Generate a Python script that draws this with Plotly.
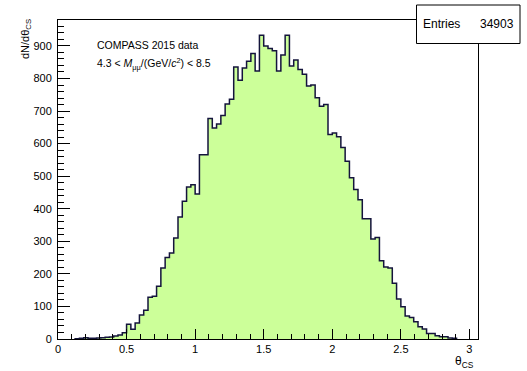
import plotly.graph_objects as go

# Histogram of the Collins-Soper polar angle theta_CS
bin_width = 0.03125
first_edge = 0.125          # lower edge of the first filled bin
x_max = 3.0625              # upper edge of the histogram axis

counts = [
    1, 2, 4, 2, 2, 3, 4, 5, 6, 9, 12, 19,
    45, 30, 49, 74, 88, 128, 131, 162, 218, 250, 264, 310, 375, 423, 467, 474, 445,
    566, 566, 677, 648, 660, 686, 722, 736, 835, 795, 832, 853, 877, 823, 933, 900, 892, 885,
    823, 872, 933, 838, 857, 828, 813, 777, 780, 741, 715, 720, 628, 633, 621, 588, 546, 495,
    459, 428, 369, 369,
    307, 312, 240, 221, 218, 171, 123, 99, 71, 66, 53, 38, 31, 17, 17, 10, 7, 7, 3, 2,
]
entries = 34903

x_ticks = [0, 0.5, 1, 1.5, 2, 2.5, 3]
y_ticks = [0, 100, 200, 300, 400, 500, 600, 700, 800, 900]

edges = [first_edge + i * bin_width for i in range(len(counts) + 1)]
xs = [edges[0]] + edges + [edges[-1]]
ys = [0] + counts + [counts[-1], 0]

y_max = 1.05 * max(counts)

FONT = "Liberation Sans, Arial, Helvetica, sans-serif"

fig = go.Figure()
fig.add_trace(go.Scatter(
    x=xs, y=ys, mode="lines", line_shape="hv",
    line=dict(color="#14143c", width=1.5),
    fill="tozeroy", fillcolor="#ccff99",
    hoverinfo="skip", showlegend=False,
))

L, R, T, B = 58, 49, 20, 32
W, H = 527, 371
pw, ph = W - L - R, H - T - B


def px_x(p):
    return (p - L) / pw


def px_y(p):
    return (H - B - p) / ph


fig.update_layout(
    width=W, height=H,
    margin=dict(l=L, r=R, t=T, b=B, pad=0),
    paper_bgcolor="white", plot_bgcolor="white",
    font=dict(family=FONT, size=11, color="black"),
    xaxis=dict(
        range=[0, x_max], showgrid=False, zeroline=False,
        showline=True, linecolor="black", linewidth=1, mirror=True,
        tickmode="array", tickvals=x_ticks, ticktext=[f"{v:g}" for v in x_ticks],
        ticks="inside", ticklen=10, tickwidth=1, tickcolor="black",
        minor=dict(ticks="inside", ticklen=5, tickwidth=1, tickcolor="black",
                   dtick=0.1, tick0=0, showgrid=False),
        tickfont=dict(size=11, family=FONT),
    ),
    yaxis=dict(
        range=[0, y_max], showgrid=False, zeroline=False,
        showline=True, linecolor="black", linewidth=1, mirror=True,
        tickmode="array", tickvals=y_ticks, ticktext=[str(v) for v in y_ticks],
        ticks="inside", ticklen=12, tickwidth=1, tickcolor="black",
        minor=dict(ticks="inside", ticklen=6, tickwidth=1, tickcolor="black",
                   dtick=20, tick0=0, showgrid=False),
        tickfont=dict(size=11, family=FONT),
        ticklabelstandoff=3,
    ),
)

# statistics box
fig.add_shape(
    type="rect", xref="paper", yref="paper", layer="above",
    x0=px_x(416.5), x1=px_x(520), y0=px_y(43.5), y1=px_y(5),
    line=dict(color="black", width=1), fillcolor="white",
)

annotations = [
    dict(text="Entries", x=px_x(421), y=px_y(24), xanchor="left", yanchor="middle",
         font=dict(size=12)),
    dict(text=str(entries), x=px_x(516), y=px_y(24), xanchor="right", yanchor="middle",
         font=dict(size=12)),
    dict(text="COMPASS 2015 data", x=px_x(95), y=px_y(45), xanchor="left", yanchor="middle",
         font=dict(size=10.5)),
    dict(text="4.3 &lt; <i>M</i><sub>μμ</sub>/(GeV/<i>c</i><sup>2</sup>) &lt; 8.5",
         x=px_x(95), y=px_y(64), xanchor="left", yanchor="middle",
         font=dict(size=10.5)),
    dict(text="dN/dθ<sub>CS</sub>", x=px_x(26), y=px_y(17), xanchor="center", yanchor="top",
         textangle=-90, font=dict(size=11)),
    dict(text="θ<sub>CS</sub>", x=px_x(476), y=px_y(352), xanchor="right", yanchor="top",
         font=dict(size=12)),
]
for a in annotations:
    fig.add_annotation(xref="paper", yref="paper", showarrow=False, **a)

fig.write_html("out.html")
